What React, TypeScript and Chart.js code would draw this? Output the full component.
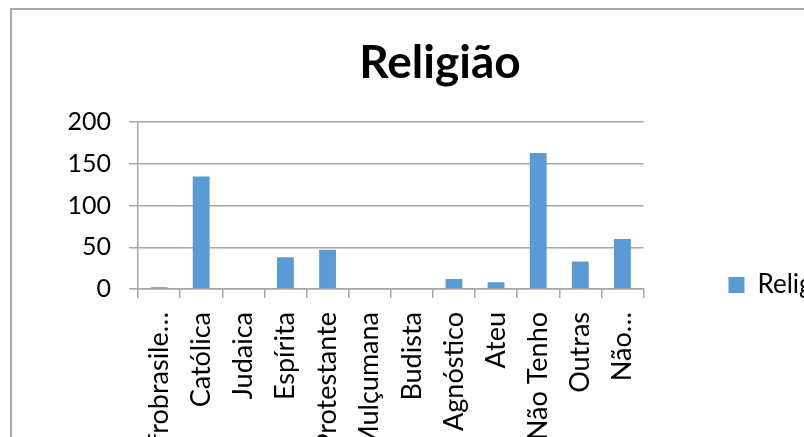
import React, { useEffect, useRef } from "react";
import { Chart, registerables } from "chart.js";

Chart.register(...registerables);

const categories = [
  "Afrobrasile…",
  "Católica",
  "Judaica",
  "Espírita",
  "Protestante",
  "Mulçumana",
  "Budista",
  "Agnóstico",
  "Ateu",
  "Não Tenho",
  "Outras",
  "Não…",
];
const values = [2, 135, 0, 38, 47, 0, 1, 12, 8, 163, 33, 60];
const seriesName = "Religião";
const yTicks = [0, 50, 100, 150, 200];

export default function App() {
  const ref = useRef<HTMLCanvasElement | null>(null);

  useEffect(() => {
    if (!ref.current) return;
    const grid = "#a6a6a6";
    const chart = new Chart(ref.current, {
      type: "bar",
      data: {
        labels: categories,
        datasets: [
          {
            label: seriesName,
            data: values,
            backgroundColor: "#5b9bd5",
            borderWidth: 0,
            barPercentage: 0.4,
            categoryPercentage: 1,
          },
        ],
      },
      options: {
        responsive: false,
        animation: false,
        layout: { padding: { left: 21, right: 27, top: 0, bottom: 0 } },
        plugins: {
          title: {
            display: true,
            text: seriesName,
            color: "#000",
            font: { family: "Lato", size: 46, weight: "bold", lineHeight: 1.2 },
            padding: { top: 26, bottom: 31 },
          },
          legend: {
            position: "right",
            labels: {
              boxWidth: 16,
              boxHeight: 16,
              padding: 85,
              color: "#000",
              font: { family: "Lato", size: 26 },
            },
          },
          tooltip: { enabled: false },
        },
        scales: {
          x: {
            offset: true,
            grid: {
              offset: true,
              drawOnChartArea: false,
              drawTicks: true,
              tickLength: 9,
              color: grid,
              lineWidth: 1.5,
            },
            border: { display: true, color: grid, width: 1.5 },
            ticks: {
              minRotation: 90,
              maxRotation: 90,
              autoSkip: false,
              padding: 14,
              color: "#000",
              font: { family: "Lato", size: 27 },
            },
            afterFit: (scale: any) => {
              scale.height = 271;
            },
          },
          y: {
            min: 0,
            max: 200,
            afterBuildTicks: (scale: any) => {
              scale.ticks = yTicks.map((v) => ({ value: v }));
            },
            grid: {
              color: grid,
              lineWidth: 1.5,
              tickLength: 9,
            },
            border: { display: true, color: grid, width: 1.5 },
            ticks: {
              padding: 18,
              color: "#000",
              font: { family: "Lato", size: 25 },
            },
            afterFit: (scale: any) => {
              scale.width = 105;
            },
          },
        },
      },
    });
    return () => chart.destroy();
  }, []);

  return (
    <div
      style={{
        position: "fixed",
        left: 0,
        top: 0,
        width: 804,
        height: 437,
        overflow: "hidden",
        background: "#fff",
      }}
    >
      <div
        style={{
          position: "absolute",
          left: 10,
          top: 8,
          border: "2px solid #a6a6a6",
          width: 862,
          height: 550,
        }}
      >
        <canvas ref={ref} width={862} height={550} style={{ display: "block" }} />
      </div>
    </div>
  );
}
